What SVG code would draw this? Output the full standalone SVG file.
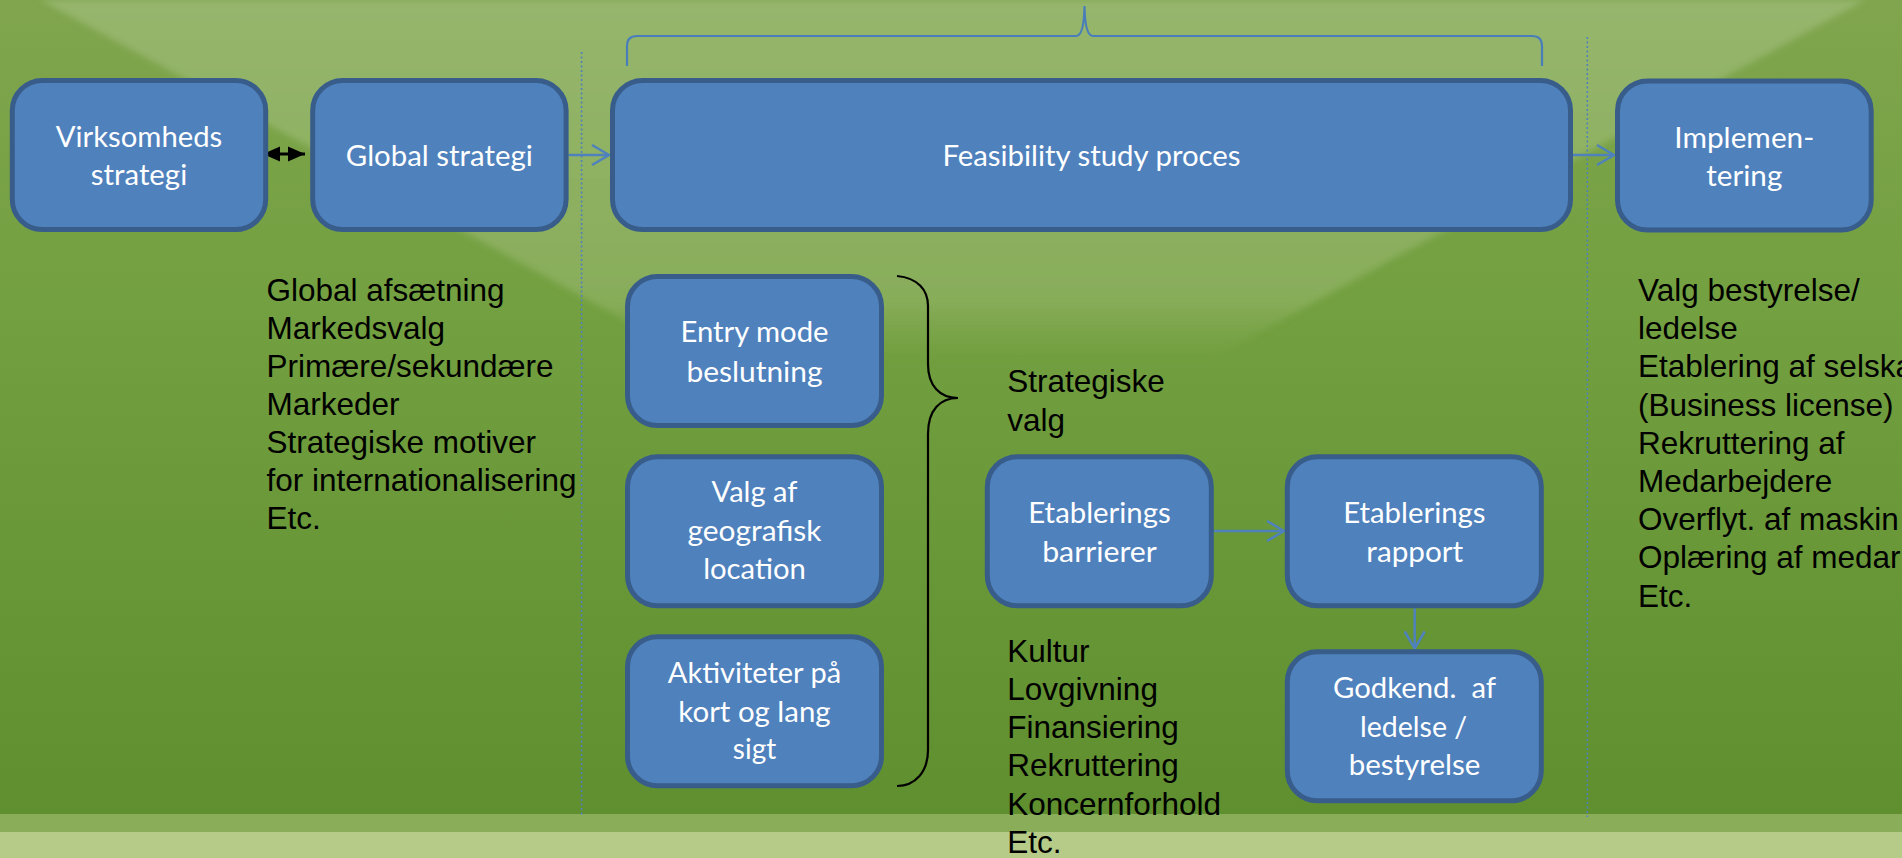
<svg xmlns="http://www.w3.org/2000/svg" width="1902" height="858" viewBox="0 0 1902 858">
  <defs>
    <linearGradient id="bgBase" x1="0" y1="0" x2="0" y2="814" gradientUnits="userSpaceOnUse">
      <stop offset="0" stop-color="#80a54e"/>
      <stop offset="0.37" stop-color="#73a040"/>
      <stop offset="1" stop-color="#5f8f2f"/>
    </linearGradient>
    <linearGradient id="bgV" x1="0" y1="0" x2="0" y2="500" gradientUnits="userSpaceOnUse">
      <stop offset="0" stop-color="#96b66d" stop-opacity="1"/>
      <stop offset="0.6" stop-color="#88ad5a" stop-opacity="1"/>
      <stop offset="0.72" stop-color="#80a750" stop-opacity="0"/>
    </linearGradient>
    <filter id="soft" x="-5%" y="-5%" width="110%" height="110%">
      <feGaussianBlur stdDeviation="3"/>
    </filter>
    <marker id="openArrow" viewBox="-20 -12 24 24" markerWidth="24" markerHeight="24" refX="0" refY="0" orient="auto" markerUnits="userSpaceOnUse">
      <path d="M-17,-10 L0,0 L-17,10" fill="none" stroke="#4f81bd" stroke-width="2.5"/>
    </marker>
    <marker id="blackHead" viewBox="-20 -10 22 20" markerWidth="22" markerHeight="20" refX="0" refY="0" orient="auto-start-reverse" markerUnits="userSpaceOnUse">
      <path d="M-17,-7.5 L0,0 L-17,7.5 Z" fill="#000"/>
    </marker>
  </defs>
  <style>
    .box { fill: #4f81bd; stroke: #385d8a; stroke-width: 5; }
    .lbl { font-family: Lato, "Open Sans", "Liberation Sans", sans-serif; font-size: 28.5px; fill: #ffffff; text-anchor: middle; }
    .note { font-family: "Liberation Sans", Arial, sans-serif; font-size: 31.5px; fill: #000000; }
    .conn { fill: none; stroke: #4f81bd; stroke-width: 2.5; }
    .dot { fill: none; stroke: #4f81bd; stroke-width: 1.6; stroke-dasharray: 2 2.5; }
    .brace { fill: none; stroke: #000; stroke-width: 2.2; }
    .topbrace { fill: none; stroke: #4a7ebb; stroke-width: 2.2; }
  </style>

  <!-- background -->
  <g id="background">
    <rect x="0" y="0" width="1902" height="858" fill="url(#bgBase)"/>
    <polygon points="41,0 1865,0 953,500" fill="url(#bgV)" filter="url(#soft)"/>
    <rect x="0" y="814" width="1902" height="18" fill="#8aad5a"/>
    <rect x="0" y="832" width="1902" height="26" fill="#b6cb88"/>
  </g>

  <!-- dividers and braces -->
  <g id="dividers">
    <line class="dot" x1="581.6" y1="52" x2="581.6" y2="817"/>
    <line class="dot" x1="1587.3" y1="37" x2="1587.3" y2="817"/>
  </g>
  <g id="top-brace">
    <path class="topbrace" d="M627,66 L627,46 Q627,36 637,36 L1076,36 Q1084,36 1084.5,6 Q1085,36 1093,36 L1532,36 Q1542,36 1542,46 L1542,66"/>
  </g>
  <g id="strategic-brace">
    <path class="brace" d="M897,276 C918,278 928,290 928,306 L928,364 C928,386 940,398 958,398 C940,398 928,410 928,434 L928,750 C928,772 915,786 897,786"/>
  </g>

  <!-- connectors -->
  <g id="connectors">
    <path class="conn" d="M568.6,155 L609,155" marker-end="url(#openArrow)"/>
    <path class="conn" d="M1573,155 L1614,155" marker-end="url(#openArrow)"/>
    <path class="conn" d="M1213.8,531 L1284,531" marker-end="url(#openArrow)"/>
    <path class="conn" d="M1414.7,608.3 L1414.7,648.5" marker-end="url(#openArrow)"/>
    <path d="M263,154 L305,154" fill="none" stroke="#000" stroke-width="3" marker-start="url(#blackHead)" marker-end="url(#blackHead)"/>
  </g>

  <!-- nodes -->
  <g id="node-virksomheds">
    <rect class="box" x="12.3" y="80.5" width="253.4" height="149" rx="30"/>
    <text class="lbl" x="139" y="146.7" textLength="166.5" lengthAdjust="spacingAndGlyphs">Virksomheds</text>
    <text class="lbl" x="139" y="185" textLength="96.4" lengthAdjust="spacingAndGlyphs">strategi</text>
  </g>
  <g id="node-global">
    <rect class="box" x="312.7" y="80.5" width="253.4" height="149" rx="30"/>
    <text class="lbl" x="439.3" y="165.7" textLength="187" lengthAdjust="spacingAndGlyphs">Global strategi</text>
  </g>
  <g id="node-feasibility">
    <rect class="box" x="612.5" y="80.5" width="958" height="149" rx="30"/>
    <text class="lbl" x="1091.5" y="165.7" textLength="298.2" lengthAdjust="spacingAndGlyphs">Feasibility study proces</text>
  </g>
  <g id="node-implementering">
    <rect class="box" x="1617.5" y="81" width="253.7" height="149" rx="30"/>
    <text class="lbl" x="1744.3" y="147.7" textLength="140" lengthAdjust="spacingAndGlyphs">Implemen-</text>
    <text class="lbl" x="1744.3" y="185.7" textLength="76" lengthAdjust="spacingAndGlyphs">tering</text>
  </g>
  <g id="node-entry">
    <rect class="box" x="627.5" y="276.5" width="254" height="149" rx="30"/>
    <text class="lbl" x="754.5" y="341.7" textLength="148.2" lengthAdjust="spacingAndGlyphs">Entry mode</text>
    <text class="lbl" x="754.5" y="381.7" textLength="136.2" lengthAdjust="spacingAndGlyphs">beslutning</text>
  </g>
  <g id="node-valg">
    <rect class="box" x="627.5" y="456.8" width="254" height="149" rx="30"/>
    <text class="lbl" x="754.5" y="502.3" textLength="85.8" lengthAdjust="spacingAndGlyphs">Valg af</text>
    <text class="lbl" x="754.5" y="541" textLength="133.9" lengthAdjust="spacingAndGlyphs">geografisk</text>
    <text class="lbl" x="754.5" y="579.3" textLength="102.7" lengthAdjust="spacingAndGlyphs">location</text>
  </g>
  <g id="node-aktiviteter">
    <rect class="box" x="627.5" y="636.8" width="254" height="149" rx="30"/>
    <text class="lbl" x="754.5" y="683.3" textLength="173.3" lengthAdjust="spacingAndGlyphs">Aktiviteter på</text>
    <text class="lbl" x="754.5" y="721.7" textLength="152.3" lengthAdjust="spacingAndGlyphs">kort og lang</text>
    <text class="lbl" x="754.5" y="759.3" textLength="43.3" lengthAdjust="spacingAndGlyphs">sigt</text>
  </g>
  <g id="node-barrierer">
    <rect class="box" x="987.3" y="456.8" width="224" height="149" rx="30"/>
    <text class="lbl" x="1099.5" y="522.7" textLength="142.4" lengthAdjust="spacingAndGlyphs">Etablerings</text>
    <text class="lbl" x="1099.5" y="561.7" textLength="114.7" lengthAdjust="spacingAndGlyphs">barrierer</text>
  </g>
  <g id="node-rapport">
    <rect class="box" x="1287.3" y="456.8" width="254" height="149" rx="30"/>
    <text class="lbl" x="1414.4" y="522.7" textLength="142.4" lengthAdjust="spacingAndGlyphs">Etablerings</text>
    <text class="lbl" x="1414.8" y="561.7" textLength="96.9" lengthAdjust="spacingAndGlyphs">rapport</text>
  </g>
  <g id="node-godkend">
    <rect class="box" x="1287.3" y="651.8" width="254" height="149" rx="30"/>
    <text class="lbl" x="1414.5" y="698.3" textLength="163" lengthAdjust="spacingAndGlyphs" style="white-space:pre">Godkend.  af</text>
    <text class="lbl" x="1413.6" y="736.7" textLength="107.2" lengthAdjust="spacingAndGlyphs">ledelse /</text>
    <text class="lbl" x="1414.5" y="775" textLength="131.7" lengthAdjust="spacingAndGlyphs">bestyrelse</text>
  </g>

  <!-- free text -->
  <g id="text-global">
    <text class="note" x="266.5" y="301">Global afsætning</text>
    <text class="note" x="266.5" y="339">Markedsvalg</text>
    <text class="note" x="266.5" y="377">Primære/sekundære</text>
    <text class="note" x="266.5" y="415">Markeder</text>
    <text class="note" x="266.5" y="453">Strategiske motiver</text>
    <text class="note" x="266.5" y="491">for internationalisering</text>
    <text class="note" x="266.5" y="529">Etc.</text>
  </g>
  <g id="text-strategiske">
    <text class="note" x="1007.3" y="391.7">Strategiske</text>
    <text class="note" x="1007.3" y="430.5">valg</text>
  </g>
  <g id="text-barrierer">
    <text class="note" x="1007.3" y="661.5">Kultur</text>
    <text class="note" x="1007.3" y="699.8">Lovgivning</text>
    <text class="note" x="1007.3" y="738.1">Finansiering</text>
    <text class="note" x="1007.3" y="776.4">Rekruttering</text>
    <text class="note" x="1007.3" y="814.7">Koncernforhold</text>
    <text class="note" x="1007.3" y="853">Etc.</text>
  </g>
  <g id="text-implementering">
    <text class="note" x="1638" y="301">Valg bestyrelse/</text>
    <text class="note" x="1638" y="339.2">ledelse</text>
    <text class="note" x="1638" y="377.4">Etablering af selska</text>
    <text class="note" x="1638" y="415.6">(Business license)</text>
    <text class="note" x="1638" y="453.8">Rekruttering af</text>
    <text class="note" x="1638" y="492">Medarbejdere</text>
    <text class="note" x="1638" y="530.2">Overflyt. af maskin</text>
    <text class="note" x="1638" y="568.4">Oplæring af medar</text>
    <text class="note" x="1638" y="606.6">Etc.</text>
  </g>
</svg>
